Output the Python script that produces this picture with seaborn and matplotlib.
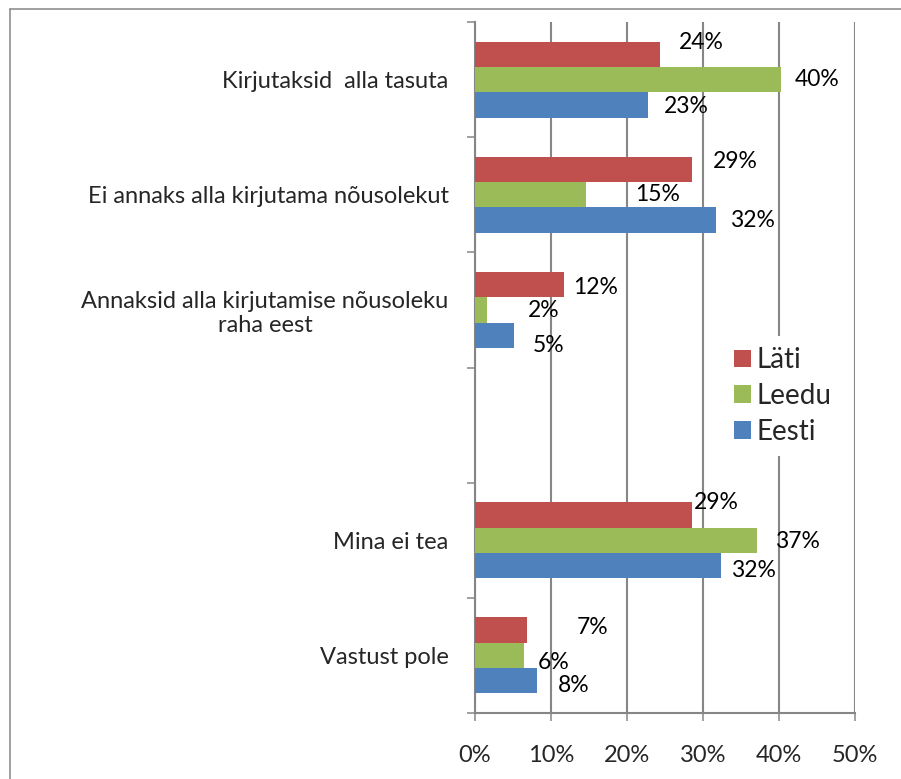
import matplotlib
matplotlib.use("Agg")
import matplotlib.pyplot as plt
from matplotlib import font_manager
from matplotlib.lines import Line2D
import numpy as np
import pandas as pd
import seaborn as sns

# ---- data -------------------------------------------------------------
answers = [
    "Kirjutaksid  alla tasuta",
    "Ei annaks alla kirjutama nõusolekut",
    "Annaksid alla kirjutamise nõusoleku\nraha eest",
    "Mina ei tea",
    "Vastust pole",
]
# one empty slot separates the first three answers from the last two
slot_order = answers[:3] + [" "] + answers[3:]
countries = ["Läti", "Leedu", "Eesti"]
lati = [24.3, 28.6, 11.7, 28.6, 6.9]
leedu = [40.3, 14.6, 1.6, 37.1, 6.4]
eesti = [22.8, 31.7, 5.1, 32.4, 8.1]
x_ticks = [0, 10, 20, 30, 40, 50]

# ---- style ------------------------------------------------------------
colors = ["#C0504D", "#9BBB59", "#4F81BD"]
line_gray = "#868686"
# hand-placed value labels: (dx, dy) in pixels from the bar end / bar centre
label_offsets = {
    "Läti":  [(42, -12), (43, -8), (32, 3), (24, -12), (65, -3)],
    "Leedu": [(36, 0), (72, 0), (57, 1), (40, 1), (30, 7)],
    "Eesti": [(38, 2), (37, 0), (35, 10), (32, 5), (37, 5)],
}

sns.set_style("white")
installed = {f.name for f in font_manager.fontManager.ttflist}
family = next((f for f in ["Lato", "Open Sans", "DejaVu Sans"] if f in installed),
              "DejaVu Sans")
plt.rcParams["font.family"] = [family, "DejaVu Sans"]

W, H = 901, 779
fig = plt.figure(figsize=(W / 100, H / 100), dpi=100)
ax = fig.add_axes([475 / W, 1 - 713 / H, 380 / W, (713 - 22) / H])

df = pd.DataFrame({
    "vastus": answers * 3,
    "riik": [c for c in countries for _ in answers],
    "osakaal": lati + leedu + eesti,
})

sns.barplot(data=df, y="vastus", x="osakaal", hue="riik", order=slot_order,
            hue_order=countries, palette=colors, orient="h", width=0.66,
            saturation=1, linewidth=0, errorbar=None, ax=ax, zorder=3)

# value labels from the bar geometry
for country, container in zip(countries, ax.containers):
    for bar in container:
        w = bar.get_width()
        yc = bar.get_y() + bar.get_height() / 2
        slot = slot_order[int(round(yc))]
        dx, dy = label_offsets[country][answers.index(slot)]
        ax.annotate(f"{w:.0f}%", xy=(w, yc), xytext=(dx, -dy),
                    textcoords="offset pixels", ha="center", va="center",
                    fontsize=16.5, color="black", zorder=4)

ax.set_xlim(0, 50)
ax.set_ylim(len(slot_order) - 0.5, -0.5)
ax.set_xticks(x_ticks)
ax.set_xticklabels([f"{t}%" for t in x_ticks], fontsize=17)
ax.set_yticks(range(len(slot_order)))
ax.set_yticklabels(slot_order, fontsize=17)
for lab in ax.get_yticklabels():
    lab.set_multialignment("center")
ax.set_yticks(np.arange(-0.5, len(slot_order), 1), minor=True)
ax.set_xlabel("")
ax.set_ylabel("")

ax.grid(axis="x", color=line_gray, linewidth=1.5, zorder=0)
ax.grid(axis="y", visible=False)
for side in ["top", "right"]:
    ax.spines[side].set_visible(False)
for side in ["left", "bottom"]:
    ax.spines[side].set_color(line_gray)
    ax.spines[side].set_linewidth(1.5)
ax.tick_params(axis="y", which="major", length=0, pad=19)
ax.tick_params(axis="y", which="minor", length=5.5, width=1.1, color=line_gray,
               direction="out", left=True)
ax.tick_params(axis="x", which="major", length=6, width=1.1, color=line_gray,
               direction="out", bottom=True, pad=17)

handles, labels = ax.get_legend_handles_labels()
leg = ax.legend(handles, labels, loc="upper left",
                bbox_to_anchor=(723 / W, 1 - 336 / H), bbox_transform=fig.transFigure,
                fontsize=20, frameon=True, facecolor="white", edgecolor="none",
                framealpha=1, handlelength=0.6, handleheight=0.6,
                handletextpad=0.2, labelspacing=0.35, borderpad=0.4,
                borderaxespad=0)
leg.set_zorder(5)

# outer chart frame (left and top edges)
fig.add_artist(Line2D([10 / W, 10 / W], [0, 1 - 9 / H], color=line_gray, linewidth=1.1))
fig.add_artist(Line2D([10 / W, 1], [1 - 9 / H, 1 - 9 / H], color=line_gray, linewidth=1.1))

fig.savefig("out.png", dpi=100)
